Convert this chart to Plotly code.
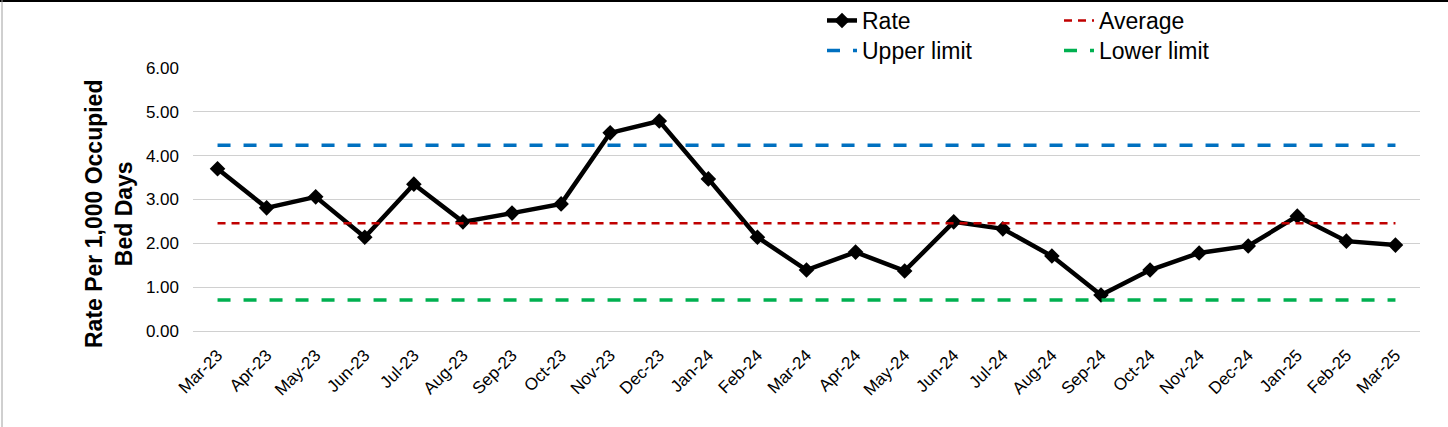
import plotly.graph_objects as go

months = ["Mar-23", "Apr-23", "May-23", "Jun-23", "Jul-23", "Aug-23", "Sep-23", "Oct-23",
          "Nov-23", "Dec-23", "Jan-24", "Feb-24", "Mar-24", "Apr-24", "May-24", "Jun-24",
          "Jul-24", "Aug-24", "Sep-24", "Oct-24", "Nov-24", "Dec-24", "Jan-25", "Feb-25", "Mar-25"]
rate = [3.70, 2.81, 3.06, 2.14, 3.35, 2.49, 2.69, 2.90, 4.52, 4.79, 3.47, 2.14, 1.39,
        1.80, 1.37, 2.49, 2.33, 1.71, 0.82, 1.39, 1.78, 1.94, 2.62, 2.05, 1.96]
average = [2.46] * len(months)
upper_limit = [4.24] * len(months)
lower_limit = [0.71] * len(months)
y_ticks = [0, 1, 2, 3, 4, 5, 6]
y_title = "<b>Rate Per 1,000 Occupied<br>Bed Days</b>"

FONT = "Arial, Liberation Sans, sans-serif"

fig = go.Figure()
fig.add_trace(go.Scatter(x=months, y=rate, name="Rate", mode="lines+markers",
                         line=dict(color="black", width=4.5),
                         marker=dict(symbol="diamond", size=12, color="black"),
                         legend="legend"))
fig.add_trace(go.Scatter(x=months, y=upper_limit, name="Upper limit", mode="lines",
                         line=dict(color="#0070C0", width=3.5, dash="13px,13px"),
                         legend="legend2"))
fig.add_trace(go.Scatter(x=months, y=average, name="Average", mode="lines",
                         line=dict(color="#C00000", width=2.5, dash="8px,6px"),
                         legend="legend3"))
fig.add_trace(go.Scatter(x=months, y=lower_limit, name="Lower limit", mode="lines",
                         line=dict(color="#00B050", width=3.5, dash="13px,13px"),
                         legend="legend4"))

W, H = 1448, 427
ml, mr, mt, mb = 193, 28, 68, 96
pw, ph = W - ml - mr, H - mt - mb

def px(xp):
    return (xp - ml) / pw

def py(yp):
    return (H - mb - yp) / ph

leg_common = dict(orientation="v", xanchor="left", yanchor="top",
                  font=dict(family=FONT, size=23, color="black"),
                  bgcolor="rgba(0,0,0,0)", tracegroupgap=0, itemwidth=30)

fig.update_layout(
    width=W, height=H,
    margin=dict(l=ml, r=mr, t=mt, b=mb, autoexpand=False),
    paper_bgcolor="white", plot_bgcolor="white",
    font=dict(family=FONT, color="black"),
    showlegend=True,
    legend=dict(x=px(822), y=py(-1), **leg_common),
    legend2=dict(x=px(822), y=py(29), **leg_common),
    legend3=dict(x=px(1059), y=py(-1), **leg_common),
    legend4=dict(x=px(1059), y=py(29), **leg_common),
    xaxis=dict(type="category", tickangle=-45, tickfont=dict(size=17, family=FONT),
               ticklabelstandoff=10,
               showgrid=False, showline=False, ticks="", range=[-0.5, len(months) - 0.5]),
    yaxis=dict(range=[0, 6], tickvals=y_ticks, tickformat=".2f",
               tickfont=dict(size=17, family=FONT), ticklabelstandoff=13,
               showgrid=True, gridcolor="#d0d0d0", gridwidth=1,
               zeroline=True, zerolinecolor="#d0d0d0", zerolinewidth=1,
               showline=False, ticks="", ticklen=0),
    annotations=[
        dict(text=y_title, textangle=-90, xref="paper", yref="paper",
             x=px(109), y=py(214), xanchor="center", yanchor="middle",
             showarrow=False, font=dict(family=FONT, size=23, color="black")),
    ],
    shapes=[
        dict(type="line", xref="paper", yref="paper", x0=px(0), x1=px(W), y0=py(1), y1=py(1),
             line=dict(color="black", width=2)),
        dict(type="line", xref="paper", yref="paper", x0=px(2), x1=px(2), y0=py(0), y1=py(H),
             line=dict(color="#a0a0a0", width=1)),
    ],
)

fig.write_html("out.html", config={"displayModeBar": False},
               post_script="document.body.style.margin='0';")
